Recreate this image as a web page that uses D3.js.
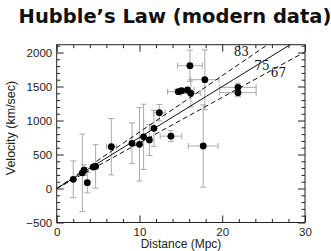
<!DOCTYPE html>
<html>
<head>
<meta charset="utf-8">
<script src="https://cdn.jsdelivr.net/npm/d3@7"></script>
<style>
  body { margin: 0; background: #fff; }
  svg text { font-family: "Liberation Sans", Arial, sans-serif; }
</style>
</head>
<body>
<div id="chart"></div>
<script>
// galaxies: distance (Mpc), velocity (km/s), and their error bars
const distance = [2.0, 3.1, 3.3, 3.7, 4.4, 4.7, 6.6, 9.1, 10.0, 10.5, 11.2, 11.75, 12.4, 13.8,
                  14.7, 15.1, 15.8, 16.2, 16.1, 17.9, 17.7, 21.9, 21.9]
const velocity = [135, 230, 270, 85, 315, 325, 615, 665, 650, 760, 715, 885, 1115, 770,
                  1424, 1438, 1449, 1400, 1806, 1600, 625, 1488, 1410]
const distErr  = [0, 0, 0, 0, 0, 0, 0.6, 0, 0, 0, 0, 0, 0.7, 1.3,
                  1.3, 0.8, 0.8, 1.2, 1.5, 1.7, 1.8, 2.2, 2.2]
const velErr   = [270, 570, 80, 150, 0, 320, 415, 300, 540, 480, 230, 265, 120, 80,
                  0, 0, 0, 200, 230, 440, 605, 60, 60]
const hubbleValues = [83, 75, 67]
const xMajor = [0, 10, 20, 30]
const yMajor = [-500, 0, 500, 1000, 1500, 2000]

const W = 331, H = 251
const M = {LEFT: 56.7, RIGHT: 305, TOP: 44.7, BOTTOM: 222.5}

const svg = d3.select("#chart").append("svg")
  .attr("width", W).attr("height", H)

const x = d3.scaleLinear().domain([0, 30]).range([M.LEFT, M.RIGHT])
const y = d3.scaleLinear().domain([-500, 2115]).range([M.BOTTOM, M.TOP])

svg.append("text")
  .attr("x", 175).attr("y", 23)
  .attr("text-anchor", "middle")
  .style("font-family", "'DejaVu Sans', sans-serif")
  .style("font-weight", "bold")
  .style("font-size", "19.5px")
  .attr("fill", "#111")
  .text("Hubble’s Law (modern data)")

svg.append("clipPath").attr("id", "plot")
  .append("rect")
  .attr("x", M.LEFT).attr("y", M.TOP)
  .attr("width", M.RIGHT - M.LEFT).attr("height", M.BOTTOM - M.TOP)

// axes with inward ticks on all four sides
const xMinor = d3.range(0, 31, 2).filter(v => v % 10 !== 0)
const yMinor = d3.range(-500, 2101, 100).filter(v => v % 500 !== 0)

function drawAxis(axisFn, scale, pos, major, minor, showLabels) {
  const g = svg.append("g").attr("transform", pos)
  g.call(axisFn(scale).tickValues(minor).tickSize(-3.5).tickFormat(""))
  const g2 = svg.append("g").attr("transform", pos)
  g2.call(axisFn(scale).tickValues(major).tickSize(-7)
    .tickFormat(showLabels ? d3.format("d") : ""))
  ;[g, g2].forEach(s => {
    s.select(".domain").remove()
    s.selectAll("line").attr("stroke", "#222")
  })
  g2.selectAll("text").style("font-size", "11.5px").attr("fill", "#222")
  return g2
}
const xl = drawAxis(d3.axisBottom, x, `translate(0,${M.BOTTOM})`, xMajor, xMinor, true)
xl.selectAll("text").attr("y", 5)
drawAxis(d3.axisTop, x, `translate(0,${M.TOP})`, xMajor, xMinor, false)
const yl = drawAxis(d3.axisLeft, y, `translate(${M.LEFT},0)`, yMajor, yMinor, true)
yl.selectAll("text").attr("x", -4.5).attr("dy", "0.36em")
  .text(d => d < 0 ? "\u2212" + Math.abs(d) : d)
drawAxis(d3.axisRight, y, `translate(${M.RIGHT},0)`, yMajor, yMinor, false)

svg.append("rect")
  .attr("x", M.LEFT).attr("y", M.TOP)
  .attr("width", M.RIGHT - M.LEFT).attr("height", M.BOTTOM - M.TOP)
  .attr("fill", "none").attr("stroke", "#222").attr("stroke-width", 1)

svg.append("text")
  .attr("x", 181).attr("y", 247.5)
  .attr("text-anchor", "middle")
  .style("font-size", "12px").attr("fill", "#222")
  .text("Distance (Mpc)")

svg.append("text")
  .attr("transform", `translate(14.5,128) rotate(-90)`)
  .attr("text-anchor", "middle")
  .style("font-size", "12.5px").attr("fill", "#222")
  .text("Velocity (km/sec)")

const plot = svg.append("g").attr("clip-path", "url(#plot)")

// error bars
const cap = 3
const eb = plot.append("g").attr("stroke", "#aaa").attr("stroke-width", 1)
distance.forEach((d, i) => {
  const cx = x(d), cy = y(velocity[i])
  if (velErr[i] > 0) {
    const y0 = y(velocity[i] - velErr[i]), y1 = y(velocity[i] + velErr[i])
    eb.append("line").attr("x1", cx).attr("x2", cx).attr("y1", y0).attr("y2", y1)
    eb.append("line").attr("x1", cx - cap).attr("x2", cx + cap).attr("y1", y0).attr("y2", y0)
    eb.append("line").attr("x1", cx - cap).attr("x2", cx + cap).attr("y1", y1).attr("y2", y1)
  }
  if (distErr[i] > 0) {
    const x0 = x(d - distErr[i]), x1 = x(d + distErr[i])
    eb.append("line").attr("x1", x0).attr("x2", x1).attr("y1", cy).attr("y2", cy)
    eb.append("line").attr("x1", x0).attr("x2", x0).attr("y1", cy - cap).attr("y2", cy + cap)
    eb.append("line").attr("x1", x1).attr("x2", x1).attr("y1", cy - cap).attr("y2", cy + cap)
  }
})

// Hubble law lines v = H0 * d
hubbleValues.forEach(h => {
  plot.append("line")
    .attr("x1", x(0)).attr("y1", y(0))
    .attr("x2", x(30)).attr("y2", y(h * 30))
    .attr("stroke", "#111").attr("stroke-width", 1)
    .attr("stroke-dasharray", h === 75 ? null : "5,3")
})

plot.selectAll("circle").data(distance).enter().append("circle")
  .attr("cx", d => x(d))
  .attr("cy", (d, i) => y(velocity[i]))
  .attr("r", 3.4)
  .attr("fill", "#000")

// line labels
const labelPos = [[22.3, 2012], [24.8, 1806], [26.8, 1709]]
hubbleValues.forEach((h, i) => {
  svg.append("text")
    .attr("x", x(labelPos[i][0])).attr("y", y(labelPos[i][1]))
    .attr("text-anchor", "middle").attr("dy", "0.35em")
    .style("font-family", "'DejaVu Serif', serif")
    .style("font-size", "12px").attr("fill", "#111")
    .text(h)
})
</script>
</body>
</html>
